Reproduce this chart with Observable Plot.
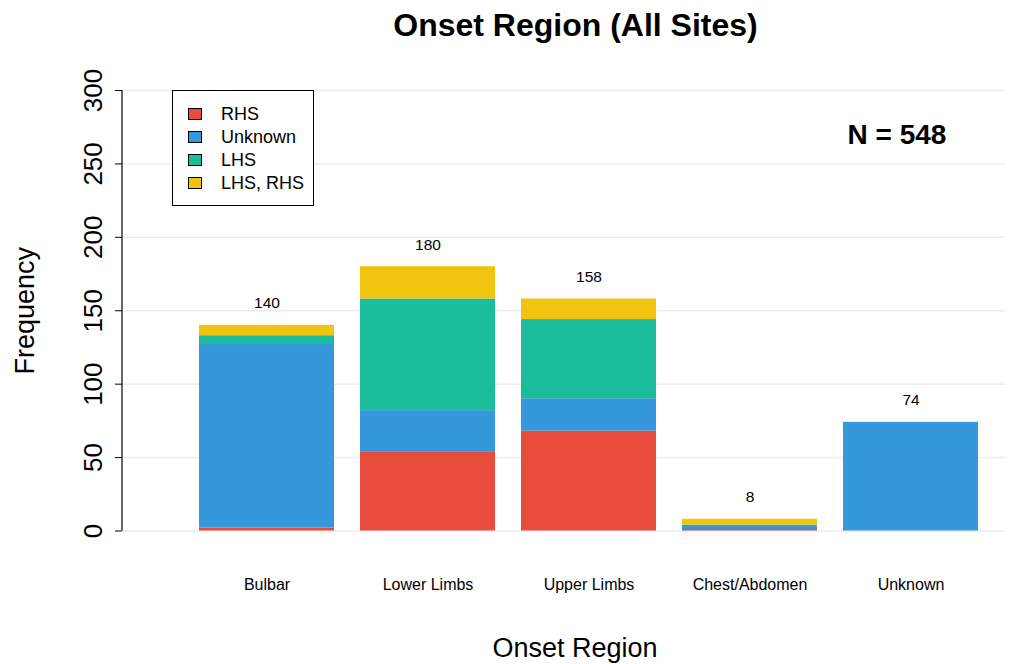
<!DOCTYPE html>
<html>
<head>
<meta charset="utf-8">
<script src="https://cdn.jsdelivr.net/npm/d3@7"></script>
<script src="https://cdn.jsdelivr.net/npm/@observablehq/plot@0.6"></script>
<style>
  body { margin: 0; background: #fff; font-family: "Liberation Sans", Arial, Helvetica, sans-serif; }
  #wrap { position: relative; width: 1013px; height: 664px; }
  #wrap svg { position: absolute; left: 0; top: 0; }
  .legend { position: absolute; left: 172px; top: 90px; width: 142px; height: 116px; box-sizing: border-box;
            border: 1px solid #000; background: #fff; }
  .legend .sw { position: absolute; left: 15px; width: 14px; height: 12px; box-sizing: border-box; border: 1px solid #000; }
  .legend .lab { position: absolute; left: 48px; font-size: 18px; line-height: 20px; white-space: nowrap; color: #000; }
</style>
</head>
<body>
<div id="wrap"></div>
<script>
// ---- data ----
const regions = ["Bulbar", "Lower Limbs", "Upper Limbs", "Chest/Abdomen", "Unknown"];
const sides = ["RHS", "Unknown", "LHS", "LHS, RHS"];
const rhs = [2, 54, 68, 1, 0];
const unknownSide = [125, 28, 22, 3, 74];
const lhs = [6, 76, 54, 0, 0];
const lhsRhs = [7, 22, 14, 4, 0];
const sideColors = ["#E74C3C", "#3498DB", "#1ABC9C", "#F1C40F"];
const yTicks = [0, 50, 100, 150, 200, 250, 300];
const titleText = "Onset Region (All Sites)";
const xTitle = "Onset Region";
const yTitle = "Frequency";
const nLabel = "N = 548";

// ---- tables ----
const seriesValues = [rhs, unknownSide, lhs, lhsRhs];
const table = regions.flatMap((r, i) => sides.map((s, j) => ({ region: r, side: s, value: seriesValues[j][i] })))
  .filter(d => d.value > 0);
const totals = regions.map((r, i) => ({ region: r, total: seriesValues.reduce((a, s) => a + s[i], 0) }));

const font = '"Liberation Sans", Arial, Helvetica, sans-serif';

const chart = Plot.plot({
  width: 1013,
  height: 664,
  marginTop: 90,
  marginBottom: 133.5,
  marginLeft: 122,
  marginRight: 8,
  style: { fontFamily: font, background: "white", color: "black" },
  x: { domain: regions, range: [184.76, 992.26], paddingInner: 0.164, paddingOuter: 0.082, axis: null },
  y: { domain: [0, 300], axis: null },
  color: { domain: sides, range: sideColors },
  marks: [
    Plot.ruleY(yTicks, { stroke: "#ececec", strokeWidth: 1.5 }),
    Plot.barY(table, Plot.stackY({ order: sides }, { x: "region", y: "value", fill: "side" })),
    Plot.text(totals, { x: "region", y: "total", text: d => String(d.total), dy: -22, fontSize: 15.5, fill: "black" }),
    Plot.axisX({ tickSize: 0, tickPadding: 48, fontSize: 16, fill: "black", label: null }),
    Plot.axisY({ ticks: yTicks, tickSize: 7, tickPadding: 14, fontSize: 26, tickRotate: -90,
                 textAnchor: "middle", lineAnchor: "bottom", stroke: "black", fill: "black", label: null }),
    Plot.text([titleText], { frameAnchor: "top", dy: -77, dx: 11.5, fontSize: 32, fontWeight: "bold", fill: "black" }),
    Plot.text([xTitle], { frameAnchor: "bottom", dy: 126, dx: 11, fontSize: 27, fill: "black" }),
    Plot.text([yTitle], { frameAnchor: "left", dx: -97, rotate: -90, textAnchor: "middle", fontSize: 27, fill: "black" }),
    Plot.text([nLabel], { frameAnchor: "top-right", dx: -108.5, dy: 34, textAnchor: "middle", fontSize: 28, fontWeight: "bold", fill: "black" })
  ]
});

// y axis line from 0 to 300 using the chart's y scale
const ys = chart.scale("y");
d3.select(chart).append("line")
  .attr("x1", 122).attr("x2", 122)
  .attr("y1", ys.apply(0)).attr("y2", ys.apply(300))
  .attr("stroke", "black").attr("stroke-width", 1.2);

const wrap = document.getElementById("wrap");
wrap.appendChild(chart);

// legend
const legend = document.createElement("div");
legend.className = "legend";
sides.forEach((s, i) => {
  const cy = 23 + i * 23;
  const sw = document.createElement("div");
  sw.className = "sw";
  sw.style.top = (cy - 6) + "px";
  sw.style.background = sideColors[i];
  const lab = document.createElement("div");
  lab.className = "lab";
  lab.style.top = (cy - 10) + "px";
  lab.textContent = s;
  legend.appendChild(sw);
  legend.appendChild(lab);
});
wrap.appendChild(legend);
</script>
</body>
</html>
